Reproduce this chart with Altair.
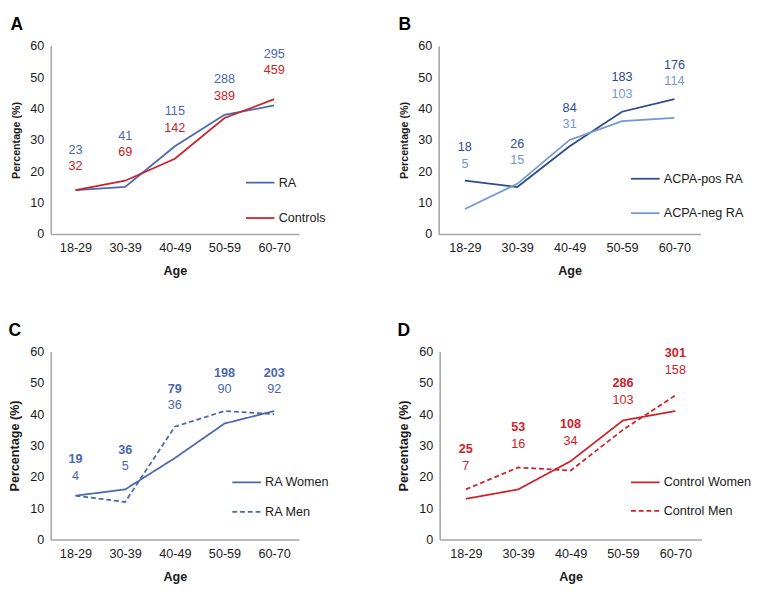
import altair as alt
import pandas as pd

FONT = "Liberation Sans"

ages = ["18-29", "30-39", "40-49", "50-59", "60-70"]

# Panel A
a_names = ["RA", "Controls"]
a_ra = [14, 15, 28, 38, 41]
a_ctrl = [14, 17, 24, 37, 43]
a_top = ["23", "41", "115", "288", "295"]
a_bot = ["32", "69", "142", "389", "459"]
a_level = [27.5, 31.9, 39.7, 50, 58]

# Panel B
b_names = ["ACPA-pos RA", "ACPA-neg RA"]
b_pos = [17, 15, 28, 39, 43]
b_neg = [8, 16, 30, 36, 37]
b_top = ["18", "26", "84", "183", "176"]
b_bot = ["5", "15", "31", "103", "114"]
b_level = [28.2, 29.4, 40.8, 50.5, 54.5]

# Panel C
c_names = ["RA Women", "RA Men"]
c_women = [14, 16, 26, 37, 41]
c_men = [14, 12, 36, 41, 40]
c_top = ["19", "36", "79", "198", "203"]
c_bot = ["4", "5", "36", "90", "92"]
c_level = [26.2, 29.2, 48.6, 53.8, 53.8]

# Panel D
d_names = ["Control Women", "Control Men"]
d_women = [13, 16, 25, 38, 41]
d_men = [16, 23, 22, 35, 46]
d_top = ["25", "53", "108", "286", "301"]
d_bot = ["7", "16", "34", "103", "158"]
d_level = [29.4, 36.4, 37.3, 50.5, 60]

y_ticks = [0, 10, 20, 30, 40, 50, 60]

BLUE = "#4a67b0"
RED = "#cc2229"
DARKBLUE = "#2d4a8c"
LIGHTBLUE = "#7298d2"
AXIS_GRAY = "#a6a6a6"


def panel(letter, names, s1, s2, colors, dashes, top, bot, level,
          top_color, bot_color, top_bold, width, lx, ly, row_pad, ytitle_size):
    df = pd.DataFrame({
        "age": ages * 2,
        "series": [names[0]] * 5 + [names[1]] * 5,
        "pct": s1 + s2,
    })
    lab = pd.DataFrame({"age": ages, "top": top, "bot": bot, "level": level})

    yscale = alt.Scale(domain=[0, 60], nice=False)
    xaxis = alt.Axis(labelAngle=0, ticks=False, domainColor=AXIS_GRAY,
                     domainWidth=1.6, labelFontSize=13, labelPadding=8,
                     titleFontSize=13, titleFontWeight="bold",
                     titlePadding=11, labelColor="#1a1a1a",
                     titleColor="#1a1a1a", labelFont=FONT, titleFont=FONT)
    yaxis = alt.Axis(values=y_ticks, ticks=False,
                     grid=False, domainColor=AXIS_GRAY, domainWidth=1.6,
                     labelFontSize=13, labelPadding=7, labelOverlap=False,
                     titleFontSize=ytitle_size, titleFontWeight="bold",
                     titlePadding=9, labelColor="#1a1a1a",
                     titleColor="#1a1a1a", labelFont=FONT, titleFont=FONT)
    legend = alt.Legend(
        orient="none", legendX=lx, legendY=ly, title=None,
        symbolType="stroke", symbolSize=870, symbolStrokeWidth=1.8,
        labelFont=FONT, labelFontSize=13, labelColor="#1a1a1a",
        labelOffset=3, rowPadding=row_pad, direction="vertical",
    )
    enc = dict(
        x=alt.X("age:N", sort=ages, title="Age", axis=xaxis),
        y=alt.Y("pct:Q", title="Percentage (%)", scale=yscale, axis=yaxis),
        color=alt.Color("series:N", scale=alt.Scale(domain=names, range=colors),
                        legend=legend),
    )
    if dashes is not None:
        enc["strokeDash"] = alt.StrokeDash(
            "series:N", scale=alt.Scale(domain=names, range=dashes), legend=legend)
    lines = alt.Chart(df).mark_line(strokeWidth=1.8).encode(**enc)

    tx = alt.X("age:N", sort=ages, title="Age", axis=xaxis)
    ty = alt.Y("level:Q", title="Percentage (%)", scale=yscale, axis=yaxis)
    t1 = alt.Chart(lab).mark_text(
        font=FONT, fontSize=13, baseline="middle", dy=2,
        fontWeight="bold" if top_bold else "normal", color=top_color,
    ).encode(x=tx, y=ty, text="top:N")
    t2 = alt.Chart(lab).mark_text(
        font=FONT, fontSize=13, baseline="middle", dy=19, color=bot_color,
    ).encode(x=tx, y=ty, text="bot:N")

    return alt.layer(lines, t1, t2).properties(
        width=width, height=194,
        title=alt.Title(letter, anchor="start", fontSize=18, fontWeight="bold",
                        font=FONT, color="#000000", offset=6, baseline="top"),
    )


A = panel("A", a_names, a_ra, a_ctrl, [BLUE, RED], None, a_top, a_bot, a_level,
          BLUE, RED, False, 256, 200, 125, 13.5, 11)
B = panel("B", b_names, b_pos, b_neg, [DARKBLUE, LIGHTBLUE], None, b_top, b_bot,
          b_level, DARKBLUE, LIGHTBLUE, False, 270, 197, 121, 12.5, 11)
C = panel("C", c_names, c_women, c_men, [BLUE, BLUE], [[1, 0], [5, 3]], c_top,
          c_bot, c_level, BLUE, BLUE, True, 256, 186, 119, 7.5, 13)
D = panel("D", d_names, d_women, d_men, [RED, RED], [[1, 0], [5, 3]], d_top,
          d_bot, d_level, RED, RED, True, 270, 196, 119, 6.5, 13)

row1 = alt.hconcat(A, B, spacing=74).resolve_scale(color="independent",
                                                  strokeDash="independent")
row2 = alt.hconcat(C, D, spacing=69).resolve_scale(color="independent",
                                                  strokeDash="independent")
chart = alt.vconcat(row1, row2, spacing=46).resolve_scale(
    color="independent", strokeDash="independent"
).properties(padding=0).configure_view(stroke=None)

chart.save("out.html", embed_options={"renderer": "svg", "actions": False})
